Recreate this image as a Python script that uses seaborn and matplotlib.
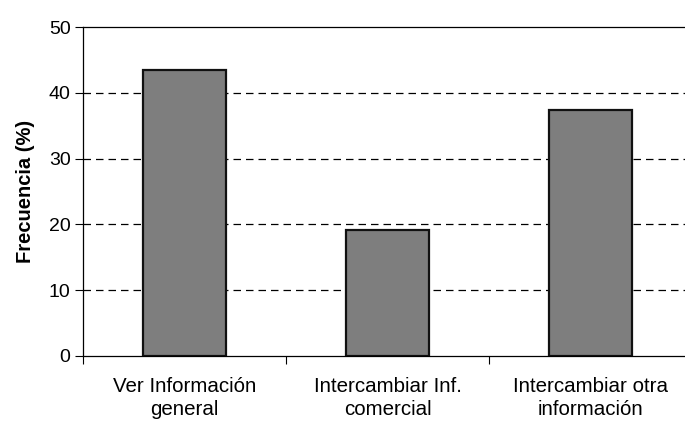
import matplotlib
matplotlib.use("Agg")
import matplotlib.pyplot as plt
from matplotlib.ticker import FixedLocator
import seaborn as sns
import pandas as pd

categorias = ["Ver Información\ngeneral", "Intercambiar Inf.\ncomercial", "Intercambiar otra\ninformación"]
frecuencia = [43.5, 19.1, 37.4]
y_ticks = [0, 10, 20, 30, 40, 50]

sns.set_theme(style="white")
plt.rcParams["font.family"] = ["Liberation Sans", "DejaVu Sans"]
plt.rcParams["text.color"] = "black"
plt.rcParams["axes.labelcolor"] = "black"
plt.rcParams["xtick.color"] = "black"
plt.rcParams["ytick.color"] = "black"

df = pd.DataFrame({"categoria": categorias, "frecuencia": frecuencia})

fig = plt.figure(figsize=(6.85, 4.22), dpi=100)
ax = fig.add_axes([0.1212, 0.1564, 0.889, 0.7796])

sns.barplot(data=df, x="categoria", y="frecuencia", color="#7e7e7e",
            edgecolor="#111111", linewidth=1.6, width=0.405, saturation=1, ax=ax)

ax.set_ylim(0, 50)
ax.set_xlim(-0.5, 2.5)
ax.set_yticks(y_ticks)
ax.set_yticklabels([str(v) for v in y_ticks], fontsize=14)
for v in y_ticks[1:-1]:
    ax.axhline(v, color="black", linestyle=(0, (6, 4)), linewidth=0.9, zorder=0)

ax.set_xlabel("")
ax.set_ylabel("Frecuencia (%)", fontsize=14.5, fontweight="bold", labelpad=10)
ax.tick_params(axis="x", length=0, labelsize=14.8, pad=15)
ax.tick_params(axis="y", left=True, length=6, width=0.8, pad=3)
ax.xaxis.set_minor_locator(FixedLocator([-0.5, 0.5, 1.5, 2.5]))
ax.tick_params(axis="x", which="minor", bottom=True, length=6, width=0.8)
for lbl in ax.get_xticklabels():
    lbl.set_linespacing(1.25)

for side in ["left", "bottom", "top"]:
    ax.spines[side].set_visible(True)
    ax.spines[side].set_color("black")
    ax.spines[side].set_linewidth(0.9)
ax.spines["right"].set_visible(False)

fig.savefig("out.png", dpi=100)
